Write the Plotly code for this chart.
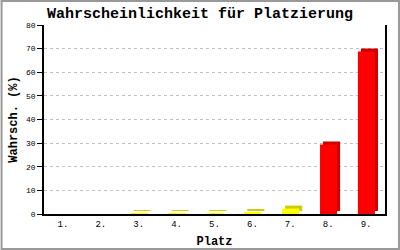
import plotly.graph_objects as go

categories = ["1.", "2.", "3.", "4.", "5.", "6.", "7.", "8.", "9."]
values = [0, 0, 0.3, 0.3, 0.3, 0.8, 2.3, 29.4, 68.8]
front_colors = ["#ffff00"] * 7 + ["#ff0000"] * 2
back_colors = ["#cccc00"] * 7 + ["#cc0000"] * 2
y_ticks = [0, 10, 20, 30, 40, 50, 60, 70, 80]

depth_y = 1.27      # depth in value units (~3px)
depth_x = 0.08      # depth in category units (~3px)
bar_w = 0.45
bar_off = -0.215

shown = [i for i, v in enumerate(values) if v > 0]
cats_s = [categories[i] for i in shown]
vals_s = [values[i] for i in shown]

fig = go.Figure()
fig.add_trace(go.Bar(
    x=cats_s, y=vals_s, base=[depth_y] * len(vals_s),
    width=bar_w, offset=bar_off + depth_x,
    marker=dict(color=[back_colors[i] for i in shown], line=dict(width=0)),
    hoverinfo="skip", showlegend=False,
))
fig.add_trace(go.Bar(
    x=cats_s, y=vals_s, base=[0] * len(vals_s),
    width=bar_w, offset=bar_off,
    marker=dict(color=[front_colors[i] for i in shown], line=dict(width=0)),
    showlegend=False,
))

mono = "Liberation Mono"
L, R, T, B = 43.5, 15, 25, 36
W, H = 400, 250
pw, ph = W - L - R, H - T - B

fig.update_layout(
    width=W, height=H, barmode="overlay",
    margin=dict(l=L, r=R, t=T, b=B, pad=0, autoexpand=False),
    paper_bgcolor="white", plot_bgcolor="white",
    title=dict(text="<b>Wahrscheinlichkeit für Platzierung</b>",
               font=dict(family=mono, size=15, color="black"),
               x=0.5, xanchor="center", y=1 - 13 / H, yanchor="middle"),
    xaxis=dict(
        categoryorder="array", categoryarray=categories,
        range=[-0.5, 8.5], showgrid=False, ticks="",
        showline=True, linecolor="black", linewidth=1.5,
        tickfont=dict(family=mono, size=9, color="black"),
        title=dict(text="<b>Platz</b>", font=dict(family=mono, size=12, color="black"), standoff=8),
        automargin=False, fixedrange=True,
    ),
    yaxis=dict(
        range=[0, 80], tickvals=y_ticks, ticktext=[str(v) for v in y_ticks],
        showgrid=True, gridcolor="#c0c0c0", griddash="dot", gridwidth=1,
        ticks="outside", ticklen=5, tickcolor="black", tickwidth=1,
        showline=True, linecolor="black", linewidth=1.5, mirror=True,
        zeroline=False,
        tickfont=dict(family=mono, size=8, color="black"),
        title=dict(text="<b>Wahrsch. (%)</b>", font=dict(family=mono, size=12, color="black"), standoff=6),
        automargin=False, fixedrange=True,
    ),
    shapes=[dict(
        type="rect", xref="paper", yref="paper",
        x0=(1 - L) / pw, x1=(W - 1 - L) / pw,
        y0=-(B - 1) / ph, y1=(H - B - 1) / ph,
        line=dict(color="#999999", width=2), fillcolor="rgba(0,0,0,0)", layer="above",
    )],
)

fig.write_html("out.html")
